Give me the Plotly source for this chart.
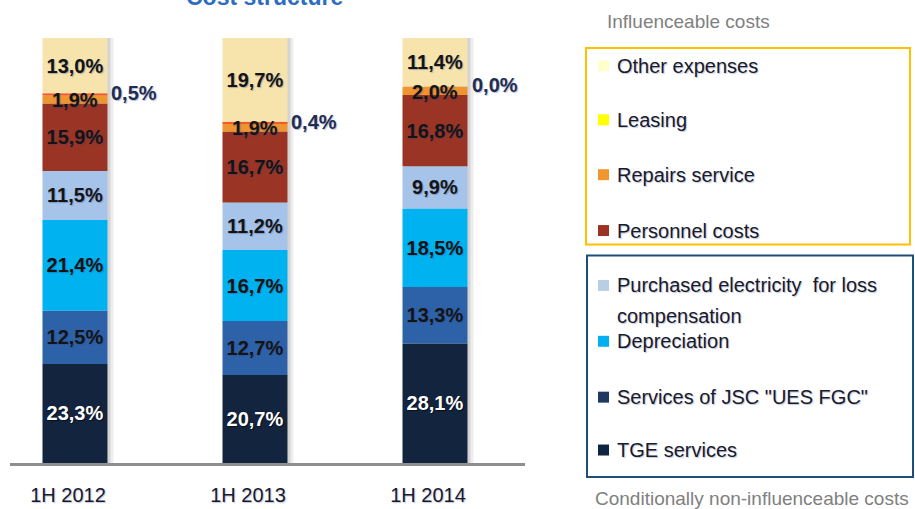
import numpy as np
import plotly.graph_objects as go

# ---------------- data ----------------
periods = ["1H 2012", "1H 2013", "1H 2014"]

# stacked from bottom to top
series_names = [
    "TGE services",
    "Services of JSC \"UES FGC\"",
    "Depreciation",
    "Purchased electricity for loss compensation",
    "Personnel costs",
    "Repairs service",
    "Leasing",
    "Other expenses",
]
tge_services = [23.3, 20.7, 28.1]
ues_fgc_services = [12.5, 12.7, 13.3]
depreciation = [21.4, 16.7, 18.5]
purchased_electricity = [11.5, 11.2, 9.9]
personnel_costs = [15.9, 16.7, 16.8]
repairs_service = [1.9, 1.9, 2.0]
leasing = [0.5, 0.4, 0.0]
other_expenses = [13.0, 19.7, 11.4]

series_values = [tge_services, ues_fgc_services, depreciation, purchased_electricity,
                 personnel_costs, repairs_service, leasing, other_expenses]

bar_colors = ["#13243F", "#2E62A8", "#00B2F0", "#A6C3E9",
              "#9A3424", "#EE9430", "#F45A28", "#F7E4AC"]
label_colors = ["#FFFFFF", "#141414", "#141414", "#141414",
                "#141414", "#141414", "#1F2D50", "#141414"]

# legend groups (top to bottom as displayed)
legend_influenceable = ["Other expenses", "Leasing", "Repairs service", "Personnel costs"]
legend_influenceable_colors = ["#FFFFCC", "#FFFF00", "#F0962F", "#9C3223"]
legend_conditional = ["Purchased electricity\u00a0 for loss", "Depreciation",
                      "Services of JSC \"UES FGC\"", "TGE services"]
legend_conditional_colors = ["#B9CDE5", "#00B0F0", "#1F3A60", "#0F2440"]

# ---------------- geometry helpers ----------------
W = 915
REF_H = 509
FIG_H = 516            # page is captured slightly taller and rescaled to 509
S = FIG_H / REF_H      # vertical scale from reference pixels to figure pixels
L, R_EDGE, T, B_EDGE = 10, 525, 37 * S, 463 * S


def px(x):
    return (x - L) / (R_EDGE - L)


def py(y):
    return (B_EDGE - y * S) / (B_EDGE - T)


BAR_W = 0.361
units_per_px = BAR_W / 65.0

fig = go.Figure()

xs = np.arange(len(periods))
totals = np.sum(np.array(series_values), axis=0)

# soft drop shadow to the right of each bar
for k, (shift, alpha) in enumerate([(3, 0.10), (6, 0.07)]):
    fig.add_trace(go.Bar(
        x=xs, y=totals, base=[0] * len(periods),
        width=BAR_W, offset=-BAR_W / 2 + shift * units_per_px,
        marker=dict(color=f"rgba(0,0,0,{alpha})", line=dict(width=0)),
        hoverinfo="skip", showlegend=False,
    ))

label_font_family = "Liberation Sans, Arial, sans-serif"
dark_shadow = "1px 1px 1px rgba(40,70,140,0.35)"
LABEL_SIZE = 20
annotations = []

cum = np.zeros(len(periods))
for i, (name, vals) in enumerate(zip(series_names, series_values)):
    vals = np.array(vals, dtype=float)
    small = name in ("Leasing", "Repairs service")
    fig.add_trace(go.Bar(
        x=xs, y=vals, base=cum.copy(), name=name,
        width=BAR_W,
        marker=dict(color=bar_colors[i], line=dict(width=0)),
        texttemplate="" if small else "<b>%{y:.1f}%</b>",
        textposition="none" if small else "inside",
        insidetextanchor="middle",
        constraintext="none",
        textangle=0,
        textfont=dict(family=label_font_family, size=LABEL_SIZE, color=label_colors[i],
                      shadow=("1px 1px 1px rgba(0,0,0,0.6)" if i == 0 else dark_shadow)),
        showlegend=False,
        hovertemplate=name + ": %{y:.1f}%<extra></extra>",
    ))
    if small:
        for j in range(len(periods)):
            txt = "<b>" + f"{vals[j]:.1f}%".replace(".", ",") + "</b>"
            if name == "Leasing":
                annotations.append(dict(
                    x=xs[j], y=cum[j] + vals[j] / 2, xref="x", yref="y", text=txt,
                    showarrow=False, xanchor="left", yanchor="middle",
                    xshift=65 / 2 + 2, yshift=1,
                    font=dict(family=label_font_family, size=LABEL_SIZE, color="#1F2D50", shadow=dark_shadow)))
            else:
                annotations.append(dict(
                    x=xs[j], y=cum[j] + vals[j] / 2, xref="x", yref="y", text=txt,
                    showarrow=False, xanchor="center", yanchor="middle", yshift=-1,
                    font=dict(family=label_font_family, size=LABEL_SIZE, color="#141414", shadow=dark_shadow)))
    cum += vals

# title (mostly cut off at top)
annotations.append(dict(text="<b>Cost structure</b>", x=px(264), y=py(11), xref="paper", yref="paper",
                        xanchor="center", yanchor="bottom", showarrow=False,
                        font=dict(family="Liberation Sans, Arial, sans-serif", size=23, color="#2E6CC0")))
# group captions
annotations.append(dict(text="Influenceable costs", x=px(688), y=py(20), xref="paper", yref="paper",
                        xanchor="center", yanchor="middle", showarrow=False,
                        font=dict(family="Liberation Sans, Arial, sans-serif", size=19, color="#808080")))
annotations.append(dict(text="Conditionally non-influenceable costs", x=px(752), y=py(499), xref="paper", yref="paper",
                        xanchor="center", yanchor="middle", showarrow=False,
                        font=dict(family="Liberation Sans, Arial, sans-serif", size=19, color="#808080")))

shapes = []
# legend boxes
shapes.append(dict(type="rect", xref="paper", yref="paper", x0=px(586), x1=px(910), y0=py(47), y1=py(244),
                   line=dict(color="#FFC000", width=2), fillcolor="rgba(0,0,0,0)"))
shapes.append(dict(type="rect", xref="paper", yref="paper", x0=px(587), x1=px(913), y0=py(255), y1=py(477),
                   line=dict(color="#1F4E79", width=2), fillcolor="rgba(0,0,0,0)"))

legend_font = dict(family="Liberation Sans, Arial, sans-serif", size=20, color="#1A1A2A",
                   shadow="1px 1px 1px rgba(40,70,140,0.3)")


def legend_item(label, color, yc):
    shapes.append(dict(type="rect", xref="paper", yref="paper", x0=px(598), x1=px(609),
                       y0=py(yc + 5.5), y1=py(yc - 5.5), line=dict(width=0), fillcolor=color))
    annotations.append(dict(text=label, x=px(615), y=py(yc), xref="paper", yref="paper",
                            xanchor="left", yanchor="middle", showarrow=False, font=legend_font))


for label, color, yc in zip(legend_influenceable, legend_influenceable_colors, [65, 119, 174, 230]):
    legend_item(label, color, yc)
for label, color, yc in zip(legend_conditional, legend_conditional_colors, [285, 341, 397, 450]):
    legend_item(label, color, yc)
annotations.append(dict(text="compensation", x=px(615), y=py(316), xref="paper", yref="paper",
                        xanchor="left", yanchor="middle", showarrow=False, font=legend_font))

fig.update_layout(
    width=W, height=FIG_H,
    autosize=False,
    margin=dict(l=L, r=W - R_EDGE, t=T, b=FIG_H - B_EDGE, pad=0),
    paper_bgcolor="white", plot_bgcolor="white",
    barmode="overlay",
    separators=",.",
    showlegend=False,
    annotations=annotations,
    shapes=shapes,
    xaxis=dict(
        range=[-0.361, 2.5], tickmode="array", tickvals=list(xs), ticktext=periods,
        showgrid=False, zeroline=False, showline=True, linecolor="#8E8E8E", linewidth=3,
        ticks="outside", ticklen=12, tickcolor="rgba(0,0,0,0)",
        ticklabelshift=-7,
        tickfont=dict(family="Liberation Sans, Arial, sans-serif", size=20, color="#1A1A2E",
                      shadow="1px 1px 1px rgba(40,70,140,0.3)"),
        fixedrange=True,
    ),
    yaxis=dict(range=[0, 100], visible=False, fixedrange=True),
)

css_fix = (
    "var s='margin:0;padding:0;overflow:hidden;';"
    "document.documentElement.style.cssText=s;"
    "document.body.style.cssText=s;"
    "var g=document.getElementsByClassName('plotly-graph-div')[0];"
    "if(g&&g.parentElement){g.parentElement.style.cssText='margin:0;padding:0;';}"
)

fig.write_html(
    "out.html",
    config={"responsive": False, "displayModeBar": False},
    post_script=css_fix,
)
